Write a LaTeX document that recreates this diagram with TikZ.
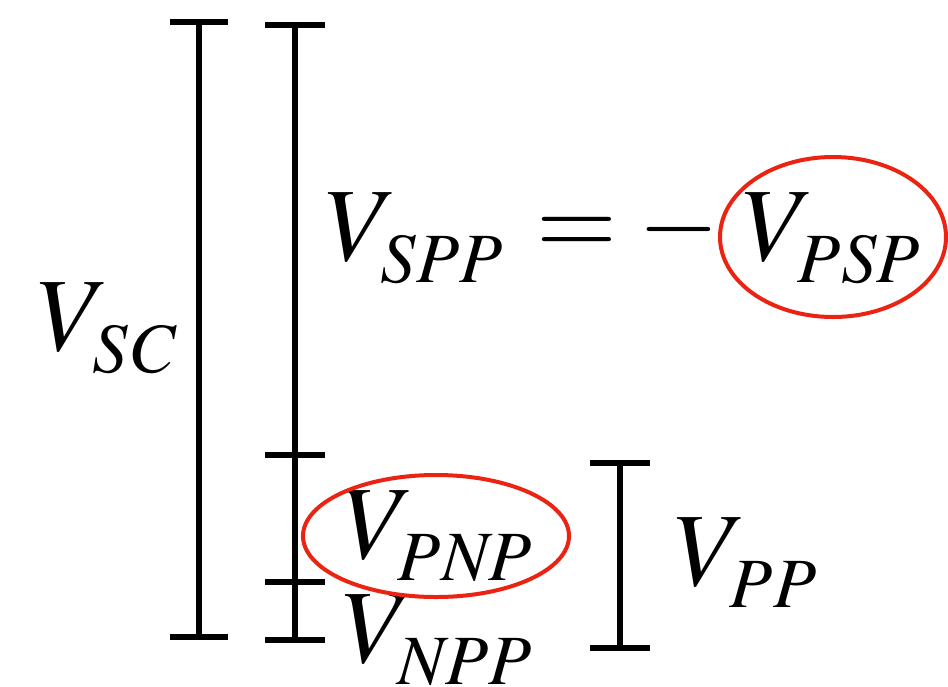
\documentclass[tikz,border=0pt]{standalone}
\usepackage[T1]{fontenc}
\usepackage{mathptmx}
\newcommand{\bigV}{{\fontsize{78}{80}\selectfont\itshape V}}
\newcommand{\subtxt}[1]{\raisebox{-17pt}{\fontsize{53}{56}\selectfont\itshape #1}}
\newcommand{\bigsym}[1]{{\fontsize{78}{80}\selectfont $#1$}}
\begin{document}
\begin{tikzpicture}[x=0.75pt,y=-0.75pt,
  bar/.style={line width=3.8pt,black},
  ring/.style={line width=3pt,draw={rgb,255:red,235;green,35;blue,18}},
  lbl/.style={anchor=base west,inner sep=0pt,outer sep=0pt}]
\useasboundingbox (0,0) rectangle (948,686);
% bar 1
\coordinate (b1t) at (199,22);
\coordinate (b1b) at (199,637);
\draw[bar] (b1t) -- (b1b);
\draw[bar] (b1t) +(-29,0) -- +(29,0);
\draw[bar] (b1b) +(-29,0) -- +(29,0);
% bar 2
\coordinate (b2a) at (295,25);
\coordinate (b2b) at (295,455);
\coordinate (b2c) at (295,582);
\coordinate (b2d) at (295,640);
\draw[bar] (b2a) -- (b2d);
\foreach \c in {b2a,b2b,b2c,b2d}
  \draw[bar] (\c) +(-30,0) -- +(30,0);
% bar 3
\coordinate (b3t) at (620,463);
\coordinate (b3b) at (620,648);
\draw[bar] (b3t) -- (b3b);
\draw[bar] (b3t) +(-30,0) -- +(30,0);
\draw[bar] (b3b) +(-30,0) -- +(30,0);
% labels
\node[lbl] (vsc) at (32,350) {\bigV\kern-0.2em\subtxt{SC}};
\node[lbl] (vspp) at (320,260) {\bigV\kern-0.2em\subtxt{SPP}};
\node[lbl] (eq) at (536,255) {\bigsym{=}};
\node[lbl] (minus) at (638,255) {\bigsym{-}};
\node[lbl] (vpsp) at (737,260) {\bigV\kern-0.2em\subtxt{PSP}};
\node[lbl] (vpnp) at (337,558) {\bigV\kern-0.2em\subtxt{PNP}};
\node[lbl] (vnpp) at (337,662) {\bigV\kern-0.2em\subtxt{NPP}};
\node[lbl] (vpp) at (669,585) {\bigV\kern-0.2em\subtxt{PP}};
% rings
\draw[ring] (833,237) ellipse [x radius=113, y radius=80];
\draw[ring] (436,536) ellipse [x radius=133, y radius=61];
\end{tikzpicture}
\end{document}
